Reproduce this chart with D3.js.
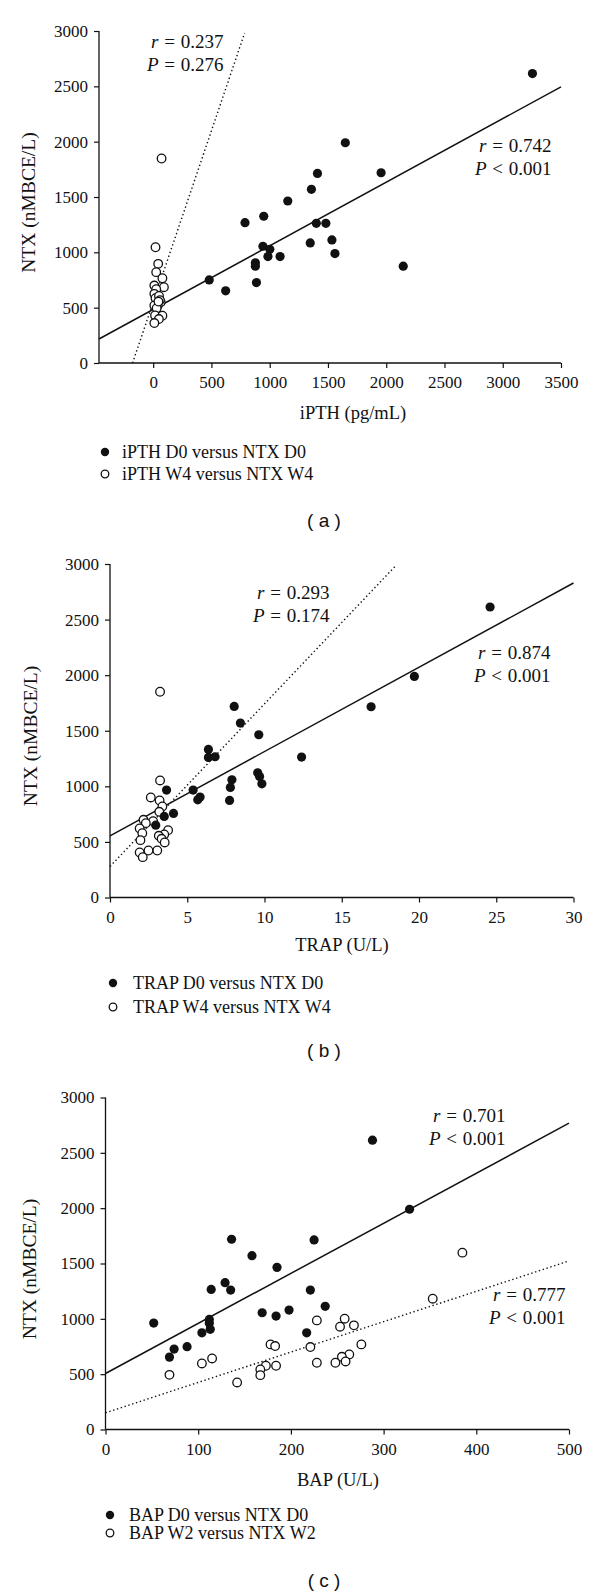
<!DOCTYPE html>
<html>
<head>
<meta charset="utf-8">
<script src="https://cdn.jsdelivr.net/npm/d3@7"></script>
<style>
  html, body { margin: 0; padding: 0; background: #fff; }
  svg { display: block; }
  text { font-family: "Liberation Serif", "Times New Roman", serif; fill: #111; }
  .lbl { font-family: "Liberation Sans", Arial, sans-serif; }
</style>
</head>
<body>
<script>
// ---------- Panel (a): iPTH vs NTX ----------
const aD0_x = [3255, 1649, 1956, 1410, 1358, 1155, 949, 788, 1400, 1482, 1534, 1348, 1560, 942, 1001, 985, 1089, 877, 877, 2146, 481, 886, 622];
const aD0_y = [2615, 1990, 1719, 1713, 1569, 1464, 1326, 1268, 1262, 1262, 1112, 1085, 989, 1055, 1028, 962, 962, 905, 875, 875, 751, 727, 652];
const aW4_x = [72, 20, 43, 26, 79, 10, 92, 26, 10, 20, 65, 39, 10, 50, 30, 16, 79, 49, 10, 58, 45];
const aW4_y = [1848, 1046, 896, 821, 766, 700, 685, 667, 625, 586, 550, 520, 520, 606, 495, 430, 427, 397, 361, 567, 555];
const aXTicks = [0, 500, 1000, 1500, 2000, 2500, 3000, 3500];
const aFitD0 = [484, 0.5747, -465, 3500];      // intercept, slope, x from, x to
const aFitW4 = [549, 3.10, -177, 785];

// ---------- Panel (b): TRAP vs NTX ----------
const bD0_x = [24.6, 19.7, 16.9, 8.04, 8.44, 9.63, 6.37, 6.37, 6.80, 12.4, 9.56, 9.68, 9.83, 7.89, 7.79, 3.66, 5.38, 7.74, 5.68, 5.83, 4.11, 3.51, 2.96];
const bD0_y = [2613, 1989, 1716, 1719, 1569, 1464, 1332, 1260, 1266, 1263, 1122, 1089, 1023, 1059, 990, 966, 966, 873, 879, 903, 756, 729, 651];
const bW4_x = [3.24, 3.24, 2.64, 3.21, 3.39, 3.19, 2.17, 2.79, 2.32, 1.92, 2.09, 3.76, 3.51, 3.16, 3.34, 1.97, 3.54, 3.06, 2.49, 1.92, 2.12];
const bW4_y = [1851, 1053, 900, 873, 819, 771, 699, 687, 669, 621, 579, 606, 567, 555, 528, 516, 495, 423, 423, 405, 363];
const bXTicks = [0, 5, 10, 15, 20, 25, 30];
const bFitD0 = [555, 75.8, 0, 30];
const bFitW4 = [279, 146.3, 0, 18.5];

// ---------- Panel (c): BAP vs NTX ----------
const cD0_x = [288, 328, 136, 225, 158, 185, 129, 114, 135, 221, 237, 198, 169, 184, 112, 112, 52, 113, 104, 217, 88, 74, 69];
const cD0_y = [2614, 1990, 1719, 1713, 1571, 1465, 1327, 1266, 1260, 1260, 1113, 1079, 1055, 1025, 995, 959, 962, 905, 874, 874, 748, 727, 654];
const cW2_x = [385, 353, 228, 258, 253, 268, 276, 178, 183, 221, 263, 255, 259, 248, 228, 115, 104, 184, 173, 167, 167, 69, 142];
const cW2_y = [1598, 1182, 986, 1001, 929, 941, 769, 769, 754, 745, 678, 657, 615, 603, 603, 642, 597, 576, 576, 543, 491, 494, 425];
const cXTicks = [0, 100, 200, 300, 400, 500];
const cFitD0 = [506, 4.524, 0, 500];
const cFitW2 = [151, 2.744, 0, 500];

const yTicks = [0, 500, 1000, 1500, 2000, 2500, 3000];

const svg = d3.select("body").append("svg").attr("width", 600).attr("height", 1594);

function panel(cfg) {
  const g = svg.append("g");
  const x = d3.scaleLinear().domain(cfg.xDomain).range(cfg.xRange);
  const y = d3.scaleLinear().domain([0, 3000]).range(cfg.yRange);

  const ya = g.append("g").attr("transform", `translate(${cfg.xRange[0]},0)`)
    .call(d3.axisLeft(y).tickValues(yTicks).tickSize(5).tickPadding(6).tickFormat(d3.format("d")));
  const xa = g.append("g").attr("transform", `translate(0,${cfg.yRange[0]})`)
    .call(d3.axisBottom(x).tickValues(cfg.xTicks).tickSize(5).tickPadding(8).tickFormat(d3.format("d")));
  [ya, xa].forEach(a => {
    a.select(".domain").attr("stroke", "#111").attr("stroke-width", 1.3);
    a.selectAll(".tick line").attr("stroke", "#111").attr("stroke-width", 1.2);
    a.selectAll(".tick text").attr("font-size", 17).attr("fill", "#111");
  });
  ya.select(".domain").attr("d", `M0,${cfg.yRange[0]}V${cfg.yRange[1]}`);
  xa.select(".domain").attr("d", `M${cfg.xRange[0]},0H${cfg.xRange[1]}`);

  const line = d3.line().x(d => x(d[0])).y(d => y(d[1]));
  function fitPts(f) { return [[f[2], f[0] + f[1] * f[2]], [f[3], f[0] + f[1] * f[3]]]; }
  g.append("path").attr("d", line(fitPts(cfg.fitW))).attr("fill", "none")
    .attr("stroke", "#111").attr("stroke-width", 1.4).attr("stroke-dasharray", "1.4 2.6");
  g.append("path").attr("d", line(fitPts(cfg.fitD))).attr("fill", "none")
    .attr("stroke", "#111").attr("stroke-width", 1.5);

  const R = 4.6;
  g.append("g").selectAll("circle").data(d3.zip(cfg.wx, cfg.wy)).join("circle")
    .attr("cx", d => x(d[0])).attr("cy", d => y(d[1])).attr("r", R - 0.3)
    .attr("fill", "#fff").attr("stroke", "#111").attr("stroke-width", 1.3);
  g.append("g").selectAll("circle").data(d3.zip(cfg.dx, cfg.dy)).join("circle")
    .attr("cx", d => x(d[0])).attr("cy", d => y(d[1])).attr("r", R).attr("fill", "#111");

  g.append("text").attr("x", cfg.xTitlePos[0]).attr("y", cfg.xTitlePos[1]).attr("text-anchor", "middle")
    .attr("font-size", 18.5).text(cfg.xTitle);
  g.append("text").attr("transform", `translate(${cfg.yTitlePos[0]},${cfg.yTitlePos[1]}) rotate(-90)`)
    .attr("text-anchor", "middle").attr("font-size", 19.5).text("NTX (nMBCE/L)");

  cfg.stats.forEach(s => {
    const t1 = g.append("text").attr("x", s.x).attr("y", s.y).attr("font-size", 19);
    t1.append("tspan").attr("font-style", "italic").text("r");
    t1.append("tspan").attr("dx", 1).text(" = ");
    t1.append("tspan").attr("dx", 1).text(s.r);
    const t2 = g.append("text").attr("x", s.x - 4).attr("y", s.y + 22.5).attr("font-size", 19);
    t2.append("tspan").attr("font-style", "italic").text("P");
    t2.append("tspan").attr("dx", 1).text(" " + s.op + " ");
    t2.append("tspan").attr("dx", 1).text(s.p);
  });

  const L = cfg.legend;
  g.append("circle").attr("cx", L.x).attr("cy", L.y[0]).attr("r", 4.2).attr("fill", "#111");
  g.append("circle").attr("cx", L.x).attr("cy", L.y[1]).attr("r", 3.8).attr("fill", "#fff")
    .attr("stroke", "#111").attr("stroke-width", 1.3);
  L.labels.forEach((t, i) => {
    g.append("text").attr("x", L.tx).attr("y", L.y[i] + 6).attr("font-size", 18).text(t);
  });

  g.append("text").attr("class", "lbl").attr("x", cfg.tag[0]).attr("y", cfg.tag[1])
    .attr("text-anchor", "middle").attr("font-size", 19).text(cfg.tag[2]);
}

panel({
  xDomain: [-465, 3500], xRange: [99, 561], yRange: [363, 31], xTicks: aXTicks,
  dx: aD0_x, dy: aD0_y, wx: aW4_x, wy: aW4_y, fitD: aFitD0, fitW: aFitW4,
  xTitle: "iPTH (pg/mL)", xTitlePos: [353, 419], yTitlePos: [35, 202.5],
  stats: [{x: 151, y: 48, r: "0.237", op: "=", p: "0.276"}, {x: 479, y: 152, r: "0.742", op: "<", p: "0.001"}],
  legend: {x: 105, tx: 122, y: [452, 474], labels: ["iPTH D0 versus NTX D0", "iPTH W4 versus NTX W4"]},
  tag: [324, 527, "( a )"]
});

panel({
  xDomain: [0, 30], xRange: [110, 573.5], yRange: [897.5, 564], xTicks: bXTicks,
  dx: bD0_x, dy: bD0_y, wx: bW4_x, wy: bW4_y, fitD: bFitD0, fitW: bFitW4,
  xTitle: "TRAP (U/L)", xTitlePos: [342, 951], yTitlePos: [37, 736],
  stats: [{x: 257, y: 599, r: "0.293", op: "=", p: "0.174"}, {x: 478, y: 659, r: "0.874", op: "<", p: "0.001"}],
  legend: {x: 113, tx: 133, y: [983, 1007], labels: ["TRAP D0 versus NTX D0", "TRAP W4 versus NTX W4"]},
  tag: [324, 1057, "( b )"]
});

panel({
  xDomain: [0, 500], xRange: [105.5, 569], yRange: [1429.5, 1097.5], xTicks: cXTicks,
  dx: cD0_x, dy: cD0_y, wx: cW2_x, wy: cW2_y, fitD: cFitD0, fitW: cFitW2,
  xTitle: "BAP (U/L)", xTitlePos: [338, 1486], yTitlePos: [36, 1269],
  stats: [{x: 433, y: 1122, r: "0.701", op: "<", p: "0.001"}, {x: 493, y: 1301, r: "0.777", op: "<", p: "0.001"}],
  legend: {x: 110, tx: 129, y: [1515, 1533], labels: ["BAP D0 versus NTX D0", "BAP W2 versus NTX W2"]},
  tag: [324, 1587, "( c )"]
});
</script>
</body>
</html>
